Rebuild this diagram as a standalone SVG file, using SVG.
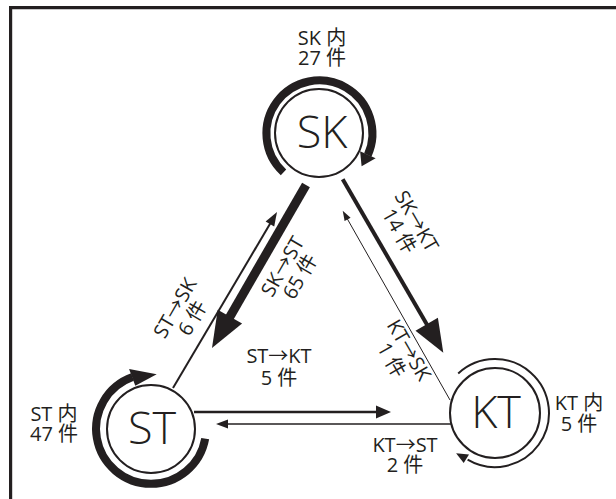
<svg xmlns="http://www.w3.org/2000/svg" width="616" height="499" viewBox="0 0 616 499">
  <style>
    .frame { fill: none; stroke: #231f20; stroke-width: 3.2; stroke-linejoin: miter; }
    .ring { fill: none; stroke: #231f20; }
    .node { fill: #fff; stroke: #231f20; stroke-width: 2; }
    .ln { fill: none; stroke: #231f20; stroke-linecap: butt; }
    .hd { fill: #231f20; stroke: none; }
    .lbl { font-family: "Open Sans", "Noto Sans CJK JP", sans-serif; font-weight: 400; font-size: 20px; fill: #231f20; text-anchor: middle; }
    .big { font-family: "Open Sans", "Noto Sans CJK JP", sans-serif; font-weight: 300; font-size: 45px; fill: #231f20; text-anchor: middle; }
  </style>

  <rect x="0" y="0" width="616" height="499" fill="#fff"/>
  <path class="frame" d="M10.6,499 V7.6 H616"/>

  <!-- connectors between states -->
  <g id="connectors">
    <!-- SK -> ST (65) -->
    <line class="ln" x1="306" y1="185" x2="229.5" y2="317.4" stroke-width="9"/>
    <polygon class="hd" points="212,348 242.1,323.6 217.7,309.8"/>
    <!-- ST -> SK (6) -->
    <line class="ln" x1="173" y1="388" x2="270.5" y2="223" stroke-width="2"/>
    <polygon class="hd" points="277,212 274.2,226.6 265.6,221.6"/>
    <!-- SK -> KT (14) -->
    <line class="ln" x1="342.7" y1="179.3" x2="427.2" y2="325" stroke-width="4"/>
    <polygon class="hd" points="443.3,352.7 415.5,330.7 437.9,317.7"/>
    <!-- KT -> SK (1) -->
    <line class="ln" x1="450" y1="400" x2="347.4" y2="219" stroke-width="1"/>
    <polygon class="hd" points="342.7,210.7 350.6,217.7 344.6,221.1"/>
    <!-- ST -> KT (5) -->
    <line class="ln" x1="194" y1="412" x2="377" y2="412" stroke-width="2.5"/>
    <polygon class="hd" points="391,412 376,405.5 376,418.5"/>
    <!-- KT -> ST (2) -->
    <line class="ln" x1="451" y1="424" x2="227" y2="424" stroke-width="1.5"/>
    <polygon class="hd" points="216,424 228,419.5 228,428.5"/>

    <!-- self loops -->
    <path class="ring" stroke-width="8" d="M283.5,172.4 A53,53 0 1 1 367.8,155"/>
    <polygon class="hd" points="360.1,151.3 375.6,158.2 361.6,166.2"/>
    <path class="ring" stroke-width="8" d="M205.2,438.6 A55,55 0 1 1 132.5,377.1"/>
    <polygon class="hd" points="135.3,385.8 129.1,368.9 156.7,374.3"/>
    <path class="ring" stroke-width="2" d="M458.2,373.5 A54,54 0 1 1 467.6,459.6"/>
    <polygon class="hd" points="469.0,454.6 463.7,463.0 456.1,453.3"/>
  </g>

  <!-- connector labels -->
  <g id="edge-labels">
    <text class="lbl" transform="translate(288.6,270) rotate(-60)"><tspan x="0" y="0">SK→ST</tspan><tspan x="0" y="20">65 件</tspan></text>
    <text class="lbl" transform="translate(181.1,311.5) rotate(-60)"><tspan x="0" y="0">ST→SK</tspan><tspan x="0" y="20">6 件</tspan></text>
    <text class="lbl" transform="translate(410.6,224.5) rotate(60)"><tspan x="0" y="0">SK→KT</tspan><tspan x="0" y="20">14 件</tspan></text>
    <text class="lbl" transform="translate(402.9,353.5) rotate(60)"><tspan x="0" y="0">KT→SK</tspan><tspan x="0" y="20">1 件</tspan></text>
    <text class="lbl"><tspan x="279" y="363">ST→KT</tspan><tspan x="279" y="385">5 件</tspan></text>
    <text class="lbl"><tspan x="405" y="452">KT→ST</tspan><tspan x="405" y="472">2 件</tspan></text>
  </g>

  <!-- states -->
  <g id="node-SK">
    <circle class="node" cx="319" cy="133" r="44"/>
    <text class="big" x="322" y="148">SK</text>
    <text class="lbl"><tspan x="322" y="45">SK 内</tspan><tspan x="322" y="65">27 件</tspan></text>
  </g>
  <g id="node-ST">
    <circle class="node" cx="151" cy="429" r="44"/>
    <text class="big" x="152" y="444">ST</text>
    <text class="lbl"><tspan x="54" y="421">ST 内</tspan><tspan x="54" y="441">47 件</tspan></text>
  </g>
  <g id="node-KT">
    <circle class="node" cx="495" cy="413" r="45"/>
    <text class="big" x="496" y="428">KT</text>
    <text class="lbl"><tspan x="579" y="410">KT 内</tspan><tspan x="579" y="431">5 件</tspan></text>
  </g>
</svg>
